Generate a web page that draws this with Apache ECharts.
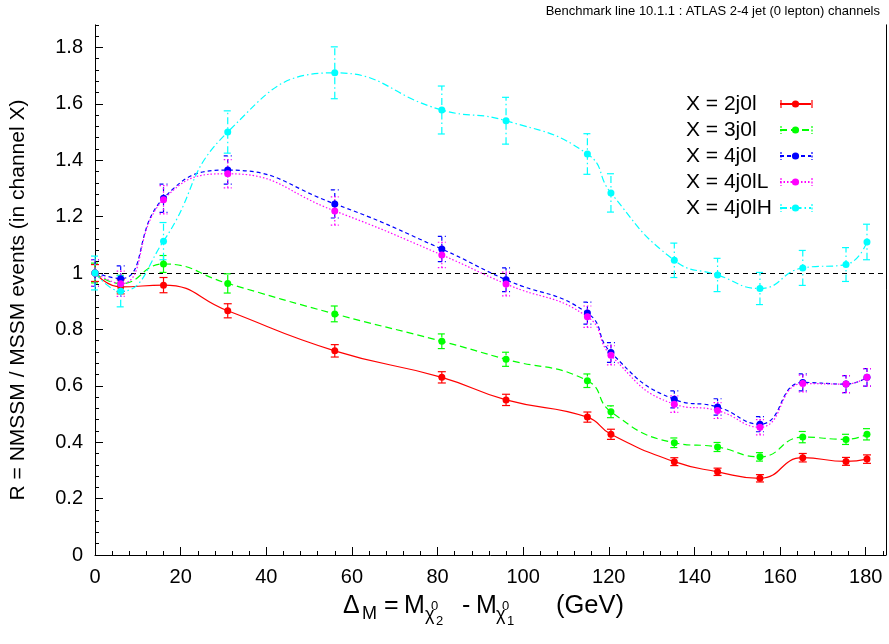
<!DOCTYPE html>
<html>
<head>
<meta charset="utf-8">
<script src="https://cdn.jsdelivr.net/npm/echarts@6/dist/echarts.min.js"></script>
<style>
  html, body { margin: 0; padding: 0; background: #fff; }
  #chart { width: 889px; height: 644px; }
</style>
</head>
<body>
<div id="chart"></div>
<script>
// Mass splitting Delta_M (GeV) of the benchmark points
const massSplit = [0, 6, 16, 31, 56, 81, 96, 115, 120.5, 135.3, 145.4, 155.3, 165.3, 175.4, 180.3];

// Ratio R = NMSSM / MSSM events per channel, with statistical errors
const ratio2j0l  = [1.0, 0.951, 0.957, 0.866, 0.724, 0.630, 0.550, 0.489, 0.428, 0.331, 0.295, 0.272, 0.345, 0.332, 0.340];
const err2j0l    = [0.030, 0.025, 0.027, 0.025, 0.022, 0.020, 0.020, 0.018, 0.018, 0.014, 0.013, 0.013, 0.015, 0.014, 0.015];

const ratio3j0l  = [1.0, 0.962, 1.032, 0.963, 0.855, 0.758, 0.694, 0.618, 0.508, 0.398, 0.383, 0.348, 0.418, 0.410, 0.428];
const err3j0l    = [0.035, 0.030, 0.030, 0.034, 0.028, 0.026, 0.025, 0.024, 0.021, 0.017, 0.016, 0.015, 0.020, 0.018, 0.020];

const ratio4j0l  = [1.0, 0.980, 1.265, 1.365, 1.245, 1.085, 0.976, 0.858, 0.718, 0.552, 0.525, 0.464, 0.612, 0.606, 0.630];
const err4j0l    = [0.047, 0.045, 0.050, 0.050, 0.050, 0.045, 0.042, 0.039, 0.035, 0.030, 0.029, 0.027, 0.030, 0.030, 0.031];

const ratio4j0lL = [1.0, 0.962, 1.260, 1.352, 1.220, 1.064, 0.961, 0.845, 0.708, 0.535, 0.512, 0.453, 0.608, 0.606, 0.630];
const err4j0lL   = [0.047, 0.045, 0.050, 0.050, 0.050, 0.045, 0.042, 0.038, 0.034, 0.029, 0.028, 0.027, 0.030, 0.030, 0.031];

const ratio4j0lH = [1.0, 0.935, 1.113, 1.500, 1.710, 1.578, 1.540, 1.422, 1.284, 1.045, 0.993, 0.945, 1.018, 1.030, 1.110];
const err4j0lH   = [0.060, 0.055, 0.066, 0.075, 0.092, 0.085, 0.083, 0.072, 0.068, 0.061, 0.059, 0.057, 0.062, 0.060, 0.063];

const channelNames = ['X = 2j0l', 'X = 3j0l', 'X = 4j0l', 'X = 4j0lL', 'X = 4j0lH'];

const xTicks = { min: 0, max: 184.7, major: 20, minor: 4 };
const yTicks = { min: 0, max: 1.88, major: 0.2, minor: 0.04 };

const FONT = '"Liberation Sans", Arial, Helvetica, sans-serif';

// plot frame (pixels)
const FRAME = { left: 95, bottom: 555, pxPerX: 4.2817, pxPerY: 282 };
const gridTop = FRAME.bottom - yTicks.max * FRAME.pxPerY;
const gridRight = 889 - (FRAME.left + xTicks.max * FRAME.pxPerX);

const channels = [
  { name: channelNames[0], y: ratio2j0l,  e: err2j0l,  color: '#ff0000', dash: 'solid' },
  { name: channelNames[1], y: ratio3j0l,  e: err3j0l,  color: '#00ff00', dash: [7, 4] },
  { name: channelNames[2], y: ratio4j0l,  e: err4j0l,  color: '#0000ff', dash: [4, 3] },
  { name: channelNames[3], y: ratio4j0lL, e: err4j0lL, color: '#ff00ff', dash: [1.5, 2] },
  { name: channelNames[4], y: ratio4j0lH, e: err4j0lH, color: '#00ffff', dash: [7, 3, 1.5, 3] }
];

function errorBarItem(color, dash) {
  const lineDash = dash === 'solid' ? null : dash;
  return function (params, api) {
    const x = api.value(0);
    const lo = api.coord([x, api.value(1)]);
    const hi = api.coord([x, api.value(2)]);
    const cap = 4;
    const style = { stroke: color, lineWidth: 1.2, lineDash: lineDash, fill: null };
    return {
      type: 'group',
      children: [
        { type: 'line', shape: { x1: lo[0], y1: lo[1], x2: hi[0], y2: hi[1] }, style: style },
        { type: 'line', shape: { x1: lo[0] - cap, y1: lo[1], x2: lo[0] + cap, y2: lo[1] }, style: style },
        { type: 'line', shape: { x1: hi[0] - cap, y1: hi[1], x2: hi[0] + cap, y2: hi[1] }, style: style }
      ]
    };
  };
}

const series = [];
channels.forEach(function (ch, k) {
  series.push({
    type: 'custom',
    name: ch.name + ' err',
    renderItem: errorBarItem(ch.color, ch.dash),
    data: massSplit.map(function (x, i) { return [x, ch.y[i] - ch.e[i], ch.y[i] + ch.e[i]]; }),
    encode: { x: 0, y: [1, 2] },
    silent: true,
    z: 2
  });
  const line = {
    type: 'line',
    name: ch.name,
    data: massSplit.map(function (x, i) { return [x, ch.y[i]]; }),
    smooth: 0.5,
    symbol: 'circle',
    symbolSize: 7,
    showAllSymbol: true,
    itemStyle: { color: ch.color },
    lineStyle: { color: ch.color, width: 1.2, type: ch.dash },
    z: 3
  };
  if (k === 0) {
    line.markLine = {
      silent: true,
      symbol: ['none', 'none'],
      label: { show: false },
      lineStyle: { color: '#000', width: 1, type: [5, 4] },
      data: [{ yAxis: 1 }],
      z: 1
    };
  }
  series.push(line);
});

// legend layout
const LEGEND = { right: 77, top: 93.5, rowStep: 26, iconLeft: 781, iconRight: 812, row0: 104, textBox: 84 };

const graphic = [];
// error-bar caps of the legend samples
channels.forEach(function (ch, k) {
  const yc = LEGEND.row0 + k * LEGEND.rowStep;
  [LEGEND.iconLeft, LEGEND.iconRight].forEach(function (xc) {
    graphic.push({
      type: 'line',
      shape: { x1: xc, y1: yc - 4, x2: xc, y2: yc + 4 },
      style: { stroke: ch.color, lineWidth: 1.2, lineDash: ch.dash === 'solid' ? null : [2, 1.5] },
      silent: true
    });
  });
});

// y axis title
graphic.push({
  type: 'text',
  x: 18.5, y: 300, rotation: Math.PI / 2,
  style: { text: 'R = NMSSM / MSSM events (in channel X)', font: '21px ' + FONT, fill: '#000', align: 'center', verticalAlign: 'middle' }
});

// x axis title: Delta_M = M_{chi_2^0} - M_{chi_1^0}   (GeV)
function piece(text, x, baseline, size) {
  return {
    type: 'text', x: x, y: baseline - 0.36 * size,
    style: { text: text, font: size + 'px ' + FONT, fill: '#000', align: 'left', verticalAlign: 'middle' },
    silent: true
  };
}
graphic.push(
  piece('\u0394', 343, 615, 25),
  piece('M', 362, 621, 18),
  piece('=', 384, 615, 25),
  piece('M', 404, 615, 25),
  piece('\u03c7', 425, 622, 18),
  piece('0', 431, 611, 13),
  piece('2', 436, 626, 13),
  piece('-', 462, 615, 25),
  piece('M', 476, 615, 25),
  piece('\u03c7', 496, 622, 18),
  piece('0', 502, 611, 13),
  piece('1', 507, 626, 13),
  piece('(GeV)', 556, 615, 25.5)
);

const chart = echarts.init(document.getElementById('chart'), null, { renderer: 'canvas' });
chart.setOption({
  animation: false,
  backgroundColor: '#fff',
  textStyle: { fontFamily: FONT },
  title: {
    text: 'Benchmark line 10.1.1 : ATLAS 2-4 jet (0 lepton) channels',
    right: 9, top: 5, padding: 0,
    textStyle: { fontSize: 13, fontWeight: 'normal', color: '#000', fontFamily: FONT }
  },
  grid: { left: FRAME.left, top: gridTop, right: gridRight, bottom: 644 - FRAME.bottom, containLabel: false, outerBoundsMode: 'none' },
  legend: {
    orient: 'vertical', right: LEGEND.right, top: LEGEND.top, padding: 0,
    itemWidth: LEGEND.iconRight - LEGEND.iconLeft, itemHeight: 9, itemGap: 5,
    align: 'right', selectedMode: false,
    formatter: function (name) { return '{t|' + name + '}'; },
    textStyle: {
      fontSize: 21, color: '#000', fontFamily: FONT, width: LEGEND.textBox, padding: [0, 5, 0, 0],
      rich: { t: { fontSize: 21, color: '#000', fontFamily: FONT, align: 'left' } }
    },
    data: channelNames
  },
  xAxis: [
    {
      type: 'value', position: 'bottom', min: xTicks.min, max: xTicks.max, interval: xTicks.major,
      axisLine: { show: true, onZero: false, lineStyle: { color: '#000', width: 1 } },
      axisTick: { show: true, inside: true, length: 8, lineStyle: { color: '#000', width: 1 } },
      axisLabel: { fontSize: 20, color: '#000', margin: 12, showMaxLabel: false, fontFamily: FONT },
      splitLine: { show: false }
    },
    {
      type: 'value', position: 'bottom', min: xTicks.min, max: xTicks.max, interval: xTicks.minor,
      axisLine: { show: false },
      axisTick: { show: true, inside: true, length: 4, lineStyle: { color: '#000', width: 1 } },
      axisLabel: { show: false },
      splitLine: { show: false }
    }
  ],
  yAxis: [
    {
      type: 'value', position: 'left', min: yTicks.min, max: yTicks.max, interval: yTicks.major,
      axisLine: { show: true, onZero: false, lineStyle: { color: '#000', width: 1 } },
      axisTick: { show: true, inside: true, length: 8, lineStyle: { color: '#000', width: 1 } },
      axisLabel: { fontSize: 20, color: '#000', margin: 12, showMaxLabel: false, fontFamily: FONT,
        formatter: function (v) { return String(Math.round(v * 10) / 10); } },
      splitLine: { show: false }
    },
    {
      type: 'value', position: 'left', min: yTicks.min, max: yTicks.max, interval: yTicks.minor,
      axisLine: { show: false },
      axisTick: { show: true, inside: true, length: 4, lineStyle: { color: '#000', width: 1 } },
      axisLabel: { show: false },
      splitLine: { show: false }
    },
    {
      type: 'value', position: 'right', min: yTicks.min, max: yTicks.max,
      axisLine: { show: true, onZero: false, lineStyle: { color: '#000', width: 1 } },
      axisTick: { show: false }, axisLabel: { show: false }, splitLine: { show: false }
    }
  ],
  graphic: graphic,
  series: series
});
</script>
</body>
</html>
